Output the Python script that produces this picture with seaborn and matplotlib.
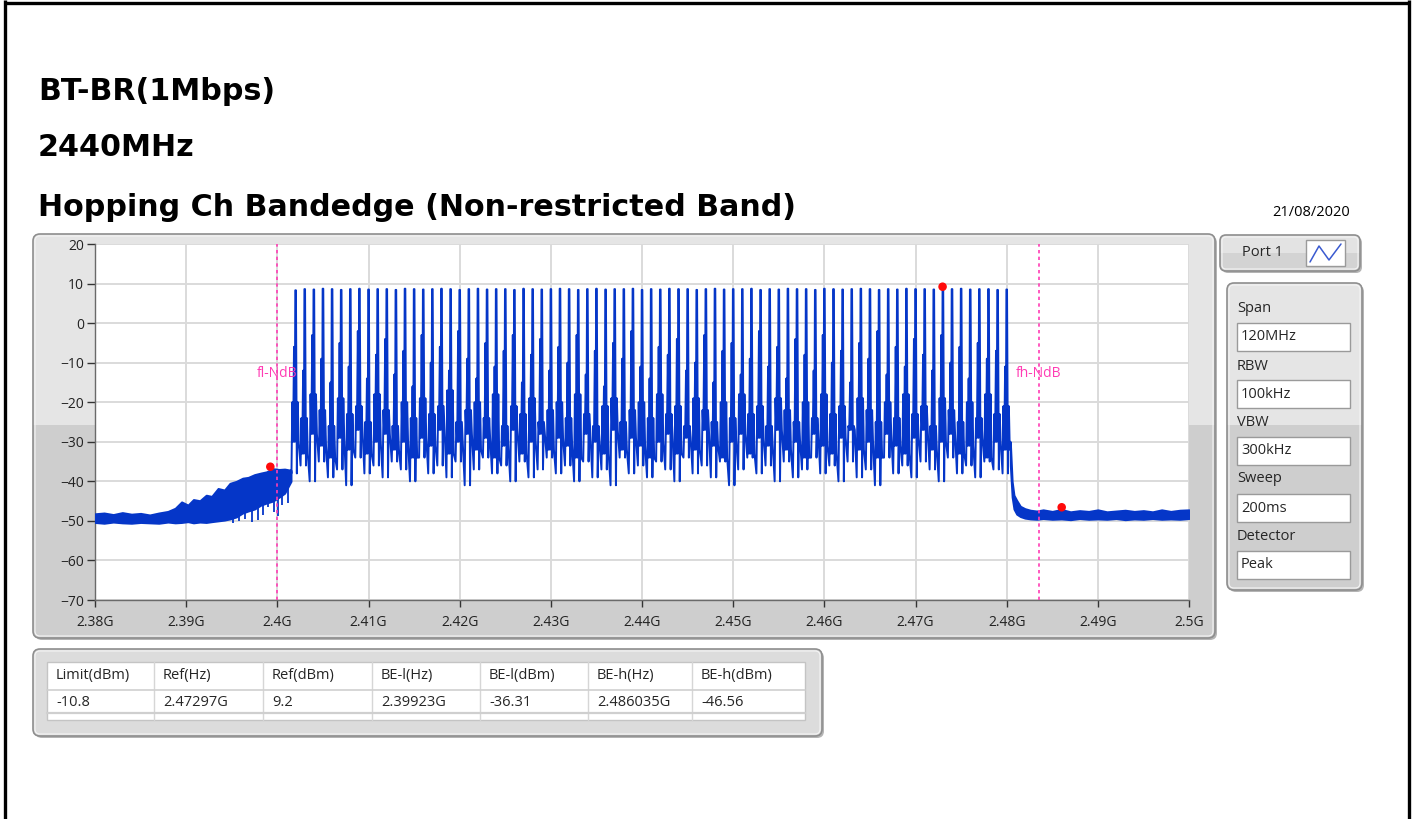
import numpy as np
import pandas as pd
import matplotlib
matplotlib.use("Agg")
import matplotlib.pyplot as plt
import seaborn as sns
from matplotlib.patches import FancyBboxPatch, Rectangle

# ---------------- data ----------------
titles = ["BT-BR(1Mbps)", "2440MHz", "Hopping Ch Bandedge (Non-restricted Band)"]
date_text = "21/08/2020"

x_ticks = [2.38, 2.39, 2.40, 2.41, 2.42, 2.43, 2.44, 2.45, 2.46, 2.47, 2.48, 2.49, 2.50]
x_tick_labels = ["2.38G", "2.39G", "2.4G", "2.41G", "2.42G", "2.43G", "2.44G",
                 "2.45G", "2.46G", "2.47G", "2.48G", "2.49G", "2.5G"]
y_ticks = [20, 10, 0, -10, -20, -30, -40, -50, -60, -70]

# hopping channels 2402 ... 2480 MHz
channel_mhz = np.arange(2402, 2481)
peaks = [8.3, 8.6, 8.5, 8.7, 8.6, 8.4, 8.6, 8.7, 8.5, 8.6,
         8.6, 8.4, 8.7, 8.6, 8.5, 8.6, 8.7, 8.6, 8.4, 8.6,
         8.7, 8.5, 8.6, 8.6, 8.4, 8.7, 8.6, 8.5, 8.6, 8.7,
         8.6, 8.4, 8.6, 8.7, 8.5, 8.6, 8.6, 8.7, 8.4, 8.6,
         8.5, 8.7, 8.6, 8.6, 8.4, 8.6, 8.7, 8.5, 8.6, 8.6,
         8.7, 8.4, 8.6, 8.5, 8.7, 8.6, 8.6, 8.4, 8.7, 8.6,
         8.5, 8.6, 8.7, 8.6, 8.4, 8.6, 8.5, 8.7, 8.6, 8.6,
         8.5, 9.2, 8.6, 8.7, 8.5, 8.6, 8.6, 8.4, 8.5]
shoulders = [-6, -12, -3, -9, -15, -5, -11, -2, -14, -8,
             -4, -13, -7, -16, -3, -10, -6, -12, -2, -9,
             -14, -5, -11, -7, -3, -15, -8, -4, -12, -6,
             -10, -3, -13, -7, -16, -5, -9, -2, -11, -14,
             -6, -8, -4, -12, -10, -3, -15, -7, -5, -13,
             -9, -2, -11, -6, -14, -4, -8, -12, -3, -10,
             -7, -15, -5, -9, -2, -13, -6, -11, -4, -8,
             -12, -3, -10, -6, -14, -5, -9, -7, -11]
mids = [-20, -24, -18, -22, -26, -19, -23, -21, -25, -18,
        -22, -26, -20, -24, -19, -23, -21, -17, -25, -22,
        -20, -24, -18, -26, -21, -23, -19, -25, -22, -20,
        -24, -18, -23, -26, -21, -19, -25, -22, -20, -24,
        -18, -23, -21, -26, -19, -22, -25, -20, -24, -18,
        -23, -21, -26, -19, -22, -25, -20, -24, -18, -23,
        -21, -26, -19, -22, -25, -20, -24, -18, -23, -21,
        -26, -19, -22, -25, -20, -24, -18, -23, -21]
lows = [-30, -33, -28, -31, -34, -29, -32, -27, -33, -30,
        -28, -32, -30, -34, -29, -31, -27, -33, -30, -28,
        -32, -29, -34, -31, -27, -33, -30, -28, -32, -29,
        -31, -34, -28, -30, -33, -27, -32, -29, -31, -34,
        -30, -28, -33, -29, -32, -27, -31, -34, -30, -28,
        -33, -29, -31, -27, -32, -30, -34, -28, -31, -33,
        -29, -27, -32, -30, -34, -28, -31, -33, -29, -27,
        -32, -30, -28, -33, -31, -29, -34, -30, -32]
troughs = [-38, -36, -40, -35, -39, -37, -41, -34, -38, -36,
           -39, -35, -37, -40, -34, -38, -36, -39, -35, -41,
           -37, -34, -38, -36, -40, -35, -39, -37, -34, -38,
           -36, -40, -35, -39, -37, -41, -34, -38, -36, -39,
           -35, -37, -40, -34, -38, -36, -39, -35, -41, -37,
           -34, -38, -36, -40, -35, -39, -37, -34, -38, -36,
           -40, -35, -39, -37, -41, -34, -38, -36, -39, -35,
           -37, -40, -34, -38, -36, -39, -35, -37, -38]

# lower band-edge skirt (MHz, upper / lower envelope in dBm)
skirt_mhz = [2380, 2381, 2382, 2383, 2384, 2385, 2386, 2387, 2388, 2388.8, 2389.5, 2390.2,
             2390.8, 2391.5, 2392.2, 2392.8, 2393.5, 2394.2, 2394.8, 2395.5, 2396.2, 2396.8,
             2397.5, 2398.2, 2398.8, 2399.5, 2400.2, 2400.8, 2401.5]
skirt_hi = [-48.2, -48.0, -48.4, -47.9, -48.3, -48.1, -48.5, -48.0, -47.6, -46.8, -45.2, -46.0,
            -44.6, -44.9, -43.5, -43.8, -41.8, -42.2, -40.5, -40.0, -39.2, -39.0,
            -38.3, -37.9, -37.6, -36.8, -37.0, -36.9, -37.2]
skirt_lo = [-50.4, -50.6, -50.3, -50.5, -50.6, -50.4, -50.5, -50.6, -50.3, -50.5, -50.4, -50.2,
            -50.5, -50.3, -50.4, -50.2, -50.0, -49.8, -49.5, -49.0, -48.0, -47.5,
            -47.0, -46.0, -45.5, -45.0, -44.0, -43.0, -40.0]
# deep dips inside the skirt
dip_mhz = [2395.1, 2395.8, 2396.5, 2397.2, 2397.9, 2398.4, 2399.0,
           2399.6, 2400.1, 2400.5, 2401.2]
dip_dbm = [-50.6, -50.1, -49.5, -50.3, -49.8, -48.6, -46.5,
           -47.8, -48.8, -46.0, -45.5]

# upper band-edge roll-off and noise floor
floor_mhz = [2480.4, 2480.6, 2480.8, 2481.1, 2481.5, 2482, 2482.6, 2483.3, 2484, 2485, 2486,
             2487, 2488, 2489, 2490, 2491, 2492, 2493, 2494, 2495, 2496, 2497, 2498, 2499, 2500]
floor_hi = [-30, -40, -43.5, -44.8, -46.3, -46.9, -47.3, -47.5, -47.2, -47.6, -47.1,
            -47.7, -47.4, -47.6, -47.2, -47.7, -47.5, -47.3, -47.6, -47.4, -47.7, -47.2, -47.6, -47.3, -47.2]
floor_lo = [-36, -44, -47, -48.3, -48.9, -49.3, -49.5, -49.6, -49.4, -49.6, -49.5,
            -49.7, -49.4, -49.6, -49.5, -49.6, -49.4, -49.7, -49.5, -49.6, -49.4, -49.6, -49.5, -49.6, -49.4]

# markers
marker_freq = [2.39923, 2.47297, 2.486035]
marker_dbm = [-36.31, 9.2, -46.56]
edge_freq = [2.400, 2.4835]
edge_labels = ["fl-NdB", "fh-NdB"]

# side panel
setting_names = ["Span", "RBW", "VBW", "Sweep", "Detector"]
setting_values = ["120MHz", "100kHz", "300kHz", "200ms", "Peak"]
port_label = "Port 1"

# result table
table_headers = ["Limit(dBm)", "Ref(Hz)", "Ref(dBm)", "BE-l(Hz)", "BE-l(dBm)", "BE-h(Hz)", "BE-h(dBm)"]
table_values = ["-10.8", "2.47297G", "9.2", "2.39923G", "-36.31", "2.486035G", "-46.56"]

# ---------------- style ----------------
sns.set_theme(style="white")
plt.rcParams["font.family"] = ["Open Sans", "DejaVu Sans"]

TRACE = "#0536c8"
MAGENTA = "#ff3cb4"

W, H = 1415, 819
fig = plt.figure(figsize=(W / 100, H / 100), dpi=100)
fig.patch.set_facecolor("white")
bg = fig.add_axes([0, 0, 1, 1])
bg.set_xlim(0, W)
bg.set_ylim(H, 0)
bg.axis("off")


def rbox(x0, y0, x1, y1, fc, ec="#8e8e8e", r=6, lw=1.2, z=1, split=None, fc2=None, shadow=True):
    style = f"round,pad=0,rounding_size={r}"
    if shadow:
        bg.add_patch(FancyBboxPatch((x0 + 2, y0 + 2), x1 - x0, y1 - y0, boxstyle=style,
                                    fc="#b4b4b4", ec="none", zorder=z - 0.2))
    p = FancyBboxPatch((x0, y0), x1 - x0, y1 - y0, boxstyle=style, fc=fc, ec="none", zorder=z)
    bg.add_patch(p)
    if split is not None:
        rr = Rectangle((x0, split), x1 - x0, y1 - split, fc=fc2, ec="none", zorder=z + 0.05)
        bg.add_patch(rr)
        rr.set_clip_path(p)
    bg.add_patch(FancyBboxPatch((x0, y0), x1 - x0, y1 - y0, boxstyle=style, fc="none",
                                ec=ec, lw=lw, zorder=z + 0.1))
    bg.add_patch(FancyBboxPatch((x0 + 2, y0 + 2), x1 - x0 - 4, y1 - y0 - 4,
                                boxstyle=f"round,pad=0,rounding_size={max(r - 2, 1)}", fc="none",
                                ec="#f4f4f4", lw=0.8, zorder=z + 0.1))
    return p


# outer frame
bg.plot([5, 5], [0, H], color="black", lw=2.4, zorder=10, solid_capstyle="butt")
bg.plot([1409, 1409], [0, H], color="black", lw=2.4, zorder=10, solid_capstyle="butt")
bg.plot([5, 1409], [2.5, 2.5], color="black", lw=2.4, zorder=10, solid_capstyle="butt")

# titles
for t, y in zip(titles, [91, 147, 207]):
    bg.text(38, y, t, fontsize=21.7, fontweight="bold", va="center", ha="left", color="black",
            family="DejaVu Sans")
bg.text(1350, 212, date_text, fontsize=10.5, va="center", ha="right", color="black")

# graph panel
rbox(33, 234, 1215, 638, fc="#e5e5e5", split=425, fc2="#cecece", r=7)

# spectrum axes
ax = fig.add_axes([95 / W, 1 - 600 / H, (1189 - 95) / W, (600 - 244) / H])
ax.set_zorder(3)
ax.set_facecolor("white")

# build the trace from the channel readings
offsets = np.array([-0.45, -0.36, -0.27, -0.17, -0.09, -0.03, 0.04, 0.14, 0.24, 0.34])
hx, hy = [], []
for i, c in enumerate(channel_mhz):
    hx += list(c + offsets)
    hy += [troughs[i], mids[i], lows[i], shoulders[i], lows[i], peaks[i],
           peaks[i], troughs[i], mids[i], lows[i]]
trace = pd.DataFrame({
    "f": np.array([skirt_mhz[-1]] + hx + [floor_mhz[0]]) / 1000.0,
    "dbm": [skirt_hi[-1]] + hy + [floor_hi[0]],
})

sk_f = np.array(skirt_mhz) / 1000.0
fl_f = np.array(floor_mhz) / 1000.0
ax.fill_between(sk_f, skirt_lo, skirt_hi, color=TRACE, lw=1.4, zorder=3)
ax.fill_between(fl_f, floor_lo, floor_hi, color=TRACE, lw=1.4, zorder=3)
dip_top = np.interp(dip_mhz, skirt_mhz, skirt_lo)
ax.vlines(np.array(dip_mhz) / 1000.0, dip_dbm, dip_top, color=TRACE, lw=1.3, zorder=3)
sns.lineplot(data=trace, x="f", y="dbm", sort=False, estimator=None, color=TRACE,
             lw=1.4, ax=ax, zorder=3)

for f in edge_freq:
    ax.axvline(f, color=MAGENTA, lw=1.2, ls=(0, (2, 2)), zorder=4)
for f, lab in zip(edge_freq, edge_labels):
    ax.text(f, -12.8, lab, color=MAGENTA, fontsize=10, ha="center", va="center", zorder=5)

sns.scatterplot(x=marker_freq, y=marker_dbm, color="#ff0a0a", s=38, edgecolor="none",
                ax=ax, zorder=6)

ax.set_xlim(2.38, 2.5)
ax.set_ylim(-70, 20)
ax.set_xticks(x_ticks)
ax.set_xticklabels(x_tick_labels)
ax.set_yticks(y_ticks)
ax.set_xlabel("")
ax.set_ylabel("")
ax.grid(True, color="#dadada", lw=1.4)
ax.set_axisbelow(True)
for s in ["top", "right"]:
    ax.spines[s].set_visible(False)
for s in ["left", "bottom"]:
    ax.spines[s].set_color("#6a6a6a")
    ax.spines[s].set_linewidth(1.0)
ax.tick_params(axis="y", direction="out", length=6, width=1, color="#333333",
               labelsize=10, pad=2, left=True, labelcolor="#222222")
ax.tick_params(axis="x", direction="out", length=5, width=1, color="#333333",
               labelsize=10, pad=6, bottom=True, labelcolor="#222222")

# port box
rbox(1220, 235, 1360, 271, fc="#e3e3e3", split=253, fc2="#d3d3d3", r=6)
bg.text(1262, 253, port_label, fontsize=10.5, va="center", ha="center", zorder=5)
bg.add_patch(Rectangle((1306, 240), 39, 26, fc="white", ec="#9a9a9a", lw=1, zorder=5))
bg.plot([1310, 1319, 1329, 1341], [262, 246, 260, 244], color="#3a5ad0", lw=1.1, zorder=6)

# settings panel
rbox(1227, 283, 1362, 590, fc="#e5e5e5", split=425, fc2="#cecece", r=7)
label_y = [309, 366, 422, 479, 536]
box_y = [323, 380, 437, 494, 551]
for name, val, ly, by in zip(setting_names, setting_values, label_y, box_y):
    bg.text(1237, ly, name, fontsize=10.5, va="center", ha="left", zorder=5)
    bg.add_patch(Rectangle((1237, by), 113, 28, fc="white", ec="#9a9a9a", lw=1, zorder=5))
    bg.text(1241, by + 14, val, fontsize=10.5, va="center", ha="left", zorder=6)

# result table
rbox(33, 649, 822, 736, fc="#dcdcdc", r=7)
bg.add_patch(Rectangle((47, 662), 758, 58, fc="white", ec="#c4c4c4", lw=1, zorder=5))
col_x = [47, 154, 263, 372, 480, 588, 692, 805]
for cx in col_x[1:-1]:
    bg.plot([cx, cx], [662, 720], color="#d6d6d6", lw=1, zorder=6)
bg.plot([47, 805], [690, 690], color="#d0d0d0", lw=1.2, zorder=6)
bg.plot([47, 805], [713, 713], color="#cfcfcf", lw=1.6, zorder=6)
for cx, hdr, val in zip(col_x[:-1], table_headers, table_values):
    bg.text(cx + 9, 676, hdr, fontsize=10.5, va="center", ha="left", zorder=7)
    bg.text(cx + 9, 703, val, fontsize=10.5, va="center", ha="left", zorder=7)

fig.savefig("out.png", dpi=100, facecolor="white")
